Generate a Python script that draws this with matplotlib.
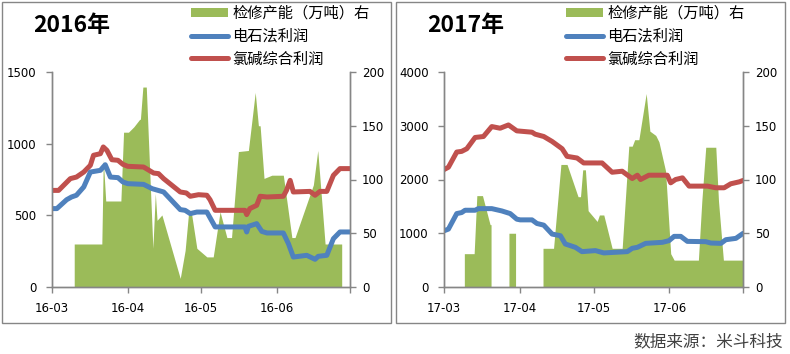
import matplotlib
matplotlib.use("Agg")
import matplotlib.pyplot as plt
import matplotlib.dates as mdates
from matplotlib.patches import Rectangle, Patch
from matplotlib.lines import Line2D
import numpy as np

plt.rcParams['font.family'] = ['DejaVu Sans', 'Noto Sans CJK SC']

# ---- 2016 (days since 2016-03-01) ----
red16_d = [0, 2.7, 7.5, 10, 13, 15.7, 17, 19.8, 21, 22.5, 24.5, 27, 29, 31, 37.5, 41.6, 43.6,
           45.7, 52.5, 55, 56.6, 60, 63.4, 64.7, 66.8, 79, 79.7, 81, 83.8, 85.2, 88, 94.7,
           96, 97.5, 98.8, 105.6, 107.7, 109.7, 112.5, 115.2, 117.9, 122]
red16_v = [674, 674, 756, 767, 802, 849, 919, 930, 977, 953, 888, 884, 856, 842, 837, 795, 791,
           756, 663, 656, 633, 644, 640, 609, 535, 535, 505, 547, 570, 633, 628, 633,
           674, 744, 663, 667, 640, 667, 667, 779, 826, 826]
blue16_d = [0, 2, 6, 8, 10, 13, 15.7, 19.8, 21.8, 23.9, 27, 29, 31, 37.5, 41, 45.7, 52.5, 54.5,
            56.6, 59.3, 63.4, 66.8, 79, 79.7, 80.4, 83.8, 85.9, 88, 94.7, 96.8, 98.8, 104.3,
            107.7, 109, 112.5, 115.2, 117.9, 122]
blue16_v = [547, 547, 609, 628, 640, 698, 802, 814, 853, 767, 763, 733, 721, 716, 686, 663, 540, 535,
            512, 523, 523, 419, 419, 384, 423, 442, 388, 377, 377, 302, 209, 221,
            193, 214, 221, 337, 384, 384]
green16_d = [9.1, 9.1, 20.4, 21, 22, 28.2, 29.3, 31.3, 33.5, 35.9, 36.2, 37.2, 38.6, 41.3, 42.3,
             43, 45, 52.5, 54.5, 56, 57, 59.3, 63.4, 66, 68.8, 71.6, 73.5, 76.3, 80.4, 83.2,
             84.5, 85.2, 86.8, 90, 94.7, 98.2, 99.5, 107, 108.8, 111.8, 118.6, 118.6]
green16_v = [0, 40, 40, 118, 80, 80, 144, 144, 149, 156, 156, 186, 186, 36, 87,
             62, 67, 8, 34, 71, 70, 36, 28, 28, 70, 46, 46, 126, 127, 181,
             150, 150, 101, 104, 104, 46, 46, 95, 127, 40, 40, 0]
ticks16 = ['2016-03-01', '2016-04-01', '2016-05-01', '2016-06-01', '2016-07-01']
labels16 = ['16-03', '16-04', '16-05', '16-06', '']

# ---- 2017 (days since 2017-03-01) ----
red17_d = [0, 1.8, 5.2, 7.2, 9.3, 12.7, 16.1, 19.5, 22.9, 26.3, 29.7, 35.9, 37.2, 40.7, 44.1,
           48.2, 50.2, 54.3, 57, 64.5, 68.6, 72.7, 76.8, 78.9, 80.2, 83.6, 91.1, 92.5, 94.5,
           97.3, 100, 107.5, 110.9, 114.3, 117, 120.5, 122]
red17_v = [2185, 2228, 2511, 2523, 2572, 2782, 2800, 2985, 2954, 3015, 2905, 2880, 2843, 2800, 2708,
           2572, 2431, 2400, 2308, 2308, 2135, 2154, 2018, 2080, 2000, 2080, 2080, 1938, 2000,
           2031, 1877, 1877, 1846, 1846, 1920, 1957, 1982]
blue17_d = [0, 1.8, 5.2, 7.2, 8.6, 12.7, 14, 19.5, 23.6, 27, 29.7, 31.1, 35.9, 37.9, 40.7, 44.1,
            47.5, 49.5, 53.6, 56.3, 61.8, 65.2, 74.8, 76.8, 78.9, 82.3, 89.1, 91.8, 93.9, 96.6,
            99.3, 106.8, 108.9, 113, 115, 119.1, 122]
blue17_v = [1046, 1077, 1366, 1385, 1428, 1428, 1458, 1458, 1415, 1366, 1262, 1249, 1249, 1182, 1151, 985,
            954, 800, 738, 658, 677, 634, 658, 720, 738, 812, 831, 862, 942, 942,
            849, 843, 818, 812, 880, 905, 997]
green17_d = [8.3, 8.3, 12.3, 13.4, 15.7, 18.8, 19.2, 19.2, 26.5, 26.5, 29.2, 29.2, 40.4, 40.4,
             44.7, 47.7, 50.2, 54.7, 55.7, 56.6, 57.7, 58.8, 62.5, 63.4, 65.2, 68.6, 72.7, 75.4,
             76.8, 77.8, 79.5, 82.5, 84, 86.4, 87.7, 90.4, 92.5, 93.9, 103.8, 105.2, 106.8,
             110.9, 112, 114, 121.8, 121.8]
green17_v = [0, 31, 31, 85, 85, 58, 58, 0, 0, 50, 50, 0, 0, 36,
             36, 114, 114, 84, 84, 109, 109, 71, 61, 67, 67, 36, 36, 131,
             131, 137, 137, 180, 145, 141, 135, 108, 31, 25, 25, 80, 130,
             130, 80, 25, 25, 0]
ticks17 = ['2017-03-01', '2017-04-01', '2017-05-01', '2017-06-01', '2017-07-01']
labels17 = ['17-03', '17-04', '17-05', '17-06', '']

legend_labels = ['检修产能（万吨）右', '电石法利润', '氯碱综合利润']

GREEN = '#9BBB59'
BLUE = '#4F81BD'
RED = '#C0504D'
GRAY = '#868686'

W, H = 790, 354
fig = plt.figure(figsize=(W / 100, H / 100), dpi=100)


def fx(px):
    return px / W


def fy(py):
    return 1 - py / H


def panel(box, axx, ticks, tlabels, red_d, red_v, blue_d, blue_v, green_d, green_v,
          lmax, lstep, title, leg_x):
    fig.patches.append(Rectangle((fx(box[0]), fy(323)), fx(box[1] - box[0]), fy(2) - fy(323),
                                 transform=fig.transFigure, fill=False, edgecolor=GRAY, lw=1.0))
    ax = fig.add_axes([fx(axx[0]), fy(287), fx(axx[1] - axx[0]), fy(72) - fy(287)])
    ax2 = ax.twinx()
    tk = [mdates.datestr2num(t) for t in ticks]
    t0 = tk[0]
    ax2.fill_between(t0 + np.array(green_d), green_v, 0, color=GREEN, lw=0)
    ax.plot(t0 + np.array(red_d), red_v, color=RED, lw=3.6, solid_capstyle='round', solid_joinstyle='round')
    ax.plot(t0 + np.array(blue_d), blue_v, color=BLUE, lw=3.6, solid_capstyle='round', solid_joinstyle='round')
    ax.set_zorder(ax2.get_zorder() + 1)
    ax.patch.set_visible(False)
    ax.set_xlim(tk[0], tk[-1])
    ax.set_xticks(tk)
    ax.set_xticklabels(tlabels)
    ax.set_ylim(0, lmax)
    ax.set_yticks(np.arange(0, lmax + 1, lstep))
    ax2.set_ylim(0, 200)
    ax2.set_yticks([0, 50, 100, 150, 200])
    for a in (ax, ax2):
        a.spines['top'].set_visible(False)
        for s in ('left', 'right', 'bottom'):
            a.spines[s].set_color(GRAY)
            a.spines[s].set_linewidth(1.0)
        a.tick_params(colors=GRAY, labelcolor='black', labelsize=8.5, length=4.5, width=1.0)
    ax.tick_params(axis='y', pad=6.5)
    ax.tick_params(axis='x', pad=6)
    ax2.tick_params(axis='y', pad=4)
    fig.text(fx(box[0] + 31), fy(25), title, fontsize=16.5, fontweight='bold',
             family=['Noto Sans CJK SC'], va='center', ha='left')
    handles = [Patch(facecolor=GREEN, edgecolor='none'),
               Line2D([], [], color=BLUE, lw=3.6, solid_capstyle='round'),
               Line2D([], [], color=RED, lw=3.6, solid_capstyle='round')]
    fig.legend(handles, legend_labels, loc='upper left', bbox_to_anchor=(fx(leg_x), fy(5)),
               frameon=False, prop={'family': 'Noto Sans CJK SC', 'size': 11},
               handlelength=2.4, handleheight=0.6, handletextpad=0.3, labelspacing=0.38,
               borderpad=0, borderaxespad=0)


panel((2, 391), (52, 350), ticks16, labels16, red16_d, red16_v,
      blue16_d, blue16_v, green16_d, green16_v, 1500, 500, '2016年', 191)
panel((396, 785), (444, 743), ticks17, labels17, red17_d, red17_v,
      blue17_d, blue17_v, green17_d, green17_v, 4000, 1000, '2017年', 566)

fig.text(fx(783), fy(342), '数据来源：米斗科技', fontsize=12, color='#404040',
         family=['Noto Sans CJK SC'], ha='right', va='center')

fig.savefig('out.png', dpi=100)
